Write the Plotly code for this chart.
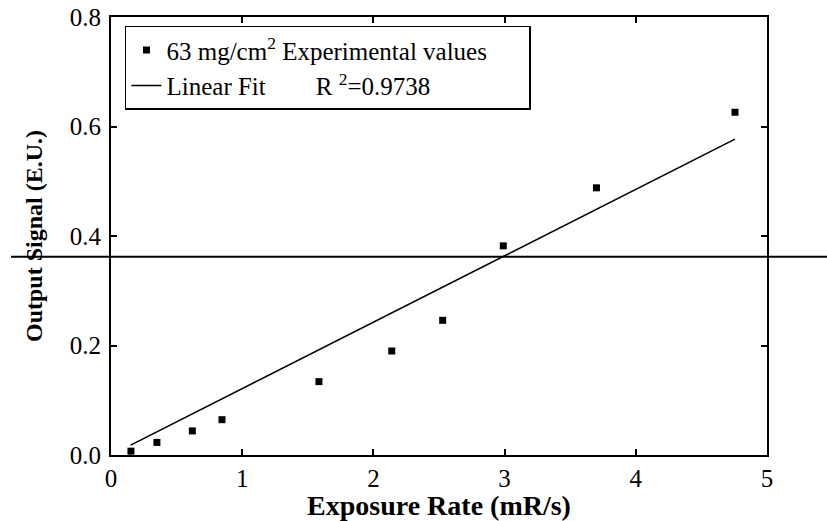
import plotly.graph_objects as go

exp_x = [0.152, 0.35, 0.62, 0.846, 1.585, 2.14, 2.528, 2.99, 3.70, 4.756]
exp_y = [0.007, 0.023, 0.044, 0.0645, 0.134, 0.19, 0.246, 0.382, 0.488, 0.626]

# Linear fit line endpoints
fit_x = [0.15, 4.756]
fit_y = [0.018, 0.577]

# Horizontal reference line level
ref_line_y = 0.362

x_ticks = [0, 1, 2, 3, 4, 5]
y_ticks = [0.0, 0.2, 0.4, 0.6, 0.8]

FONT = "Liberation Serif, Times New Roman, serif"
NB = "\u00a0"

fig = go.Figure()
fig.add_trace(go.Scatter(
    x=exp_x, y=exp_y, mode="markers",
    marker=dict(symbol="square", size=7, color="black"),
    name="63" + NB + "mg/cm<sup>2</sup>" + NB + "Experimental" + NB + "values" + NB * 6,
))
fig.add_trace(go.Scatter(
    x=fit_x, y=fit_y, mode="lines",
    line=dict(color="black", width=1.6),
    name="Linear Fit" + NB * 8 + "R" + NB + "<sup>2</sup>=0.9738",
))

fig.add_shape(type="line", xref="paper", yref="y",
              x0=-0.1524, x1=1.2, y0=ref_line_y, y1=ref_line_y,
              line=dict(color="black", width=2))

fig.update_layout(
    width=827, height=521,
    margin=dict(l=111, r=60, t=17, b=66, autoexpand=False),
    paper_bgcolor="white", plot_bgcolor="white",
    font=dict(family=FONT, size=25, color="black"),
    showlegend=True,
    legend=dict(
        x=0.0213, y=0.98, xanchor="left", yanchor="top",
        bgcolor="white", bordercolor="black", borderwidth=1.5,
        font=dict(family=FONT, size=25, color="black"),
        itemwidth=30, tracegroupgap=0,
    ),
    xaxis=dict(
        range=[0, 5], tickvals=x_ticks, ticktext=[str(v) for v in x_ticks],
        showline=True, linecolor="black", linewidth=2, mirror="ticks",
        ticks="inside", ticklen=6, tickwidth=2, tickcolor="black",
        showgrid=False, zeroline=False, automargin=False,
        tickfont=dict(family=FONT, size=25),
        ticklabelstandoff=0,
        title=dict(text="<b>Exposure Rate (mR/s)</b>", font=dict(family=FONT, size=28), standoff=4),
    ),
    yaxis=dict(
        range=[0, 0.8], tickvals=y_ticks, ticktext=[f"{v:.1f}" for v in y_ticks],
        showline=True, linecolor="black", linewidth=2, mirror="ticks",
        ticks="inside", ticklen=6, tickwidth=2, tickcolor="black",
        showgrid=False, zeroline=False, automargin=False,
        tickfont=dict(family=FONT, size=25),
        ticklabelstandoff=3,
        title=dict(text="<b>Output Signal (E.U.)</b>", font=dict(family=FONT, size=24), standoff=20),
    ),
)

fig.write_html("out.html")
